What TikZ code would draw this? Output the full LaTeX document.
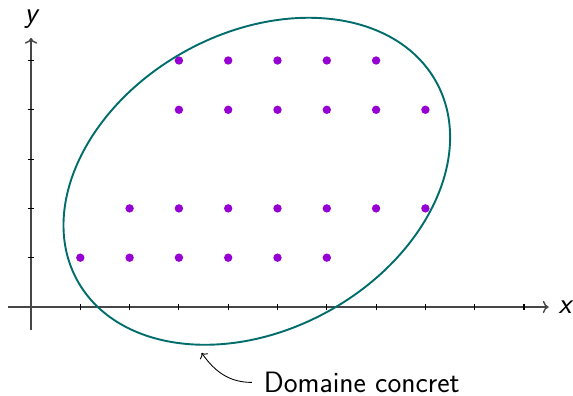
\documentclass[tikz,border=0pt]{standalone}
\usetikzlibrary{arrows.meta}
\definecolor{ellcol}{RGB}{0,108,108}
\definecolor{dotcol}{RGB}{150,0,210}
\definecolor{axcol}{RGB}{70,70,70}
\begin{document}
\begin{tikzpicture}[x=1cm,y=1cm,
  axis/.style={draw=axcol,line width=0.8pt},
  tickmark/.style={draw=black,line width=0.6pt},
  pt/.style={circle,fill=dotcol,inner sep=0pt,minimum size=0.17cm},
  lbl/.style={font=\sffamily\fontsize{17}{20}\selectfont}]
\useasboundingbox (-0.629,-1.805) rectangle (10.994,6.227);
\coordinate (xs) at (-0.47,0);
\coordinate (xe) at (10.5,0);
\coordinate (ys) at (0,-0.47);
\coordinate (ye) at (0,5.46);
\draw[axis,->] (xs) -- (xe);
\draw[axis,->] (ys) -- (ye);
\node[lbl,font=\sffamily\itshape\fontsize{17}{20}\selectfont] (xl) at (10.83,0) {x};
\node[lbl,font=\sffamily\itshape\fontsize{17}{20}\selectfont] (yl) at (0,5.83) {y};
\foreach \i in {1,...,10} \draw[tickmark] (\i,-0.07) -- (\i,0.07);
\foreach \j in {1,...,5} \draw[tickmark] (-0.07,\j) -- (0.07,\j);
\foreach \i in {1,...,6} \node[pt] (a\i) at (\i,1) {};
\foreach \i in {2,...,8} \node[pt] (b\i) at (\i,2) {};
\foreach \i in {3,...,8} \node[pt] (c\i) at (\i,4) {};
\foreach \i in {3,...,7} \node[pt] (d\i) at (\i,5) {};
\draw[ellcol,line width=1.1pt,rotate around={29:(4.58,2.55)}] (4.58,2.55) ellipse [x radius=4.16,y radius=3.01];
\node[lbl,inner sep=1pt] (dc) at (6.71,-1.53) {Domaine concret};
\coordinate (tip) at (3.46,-0.93);
\draw[black,line width=0.5pt,->] ([xshift=-0.2cm]dc.west) to[out=180,in=-55] (tip);
\end{tikzpicture}
\end{document}
